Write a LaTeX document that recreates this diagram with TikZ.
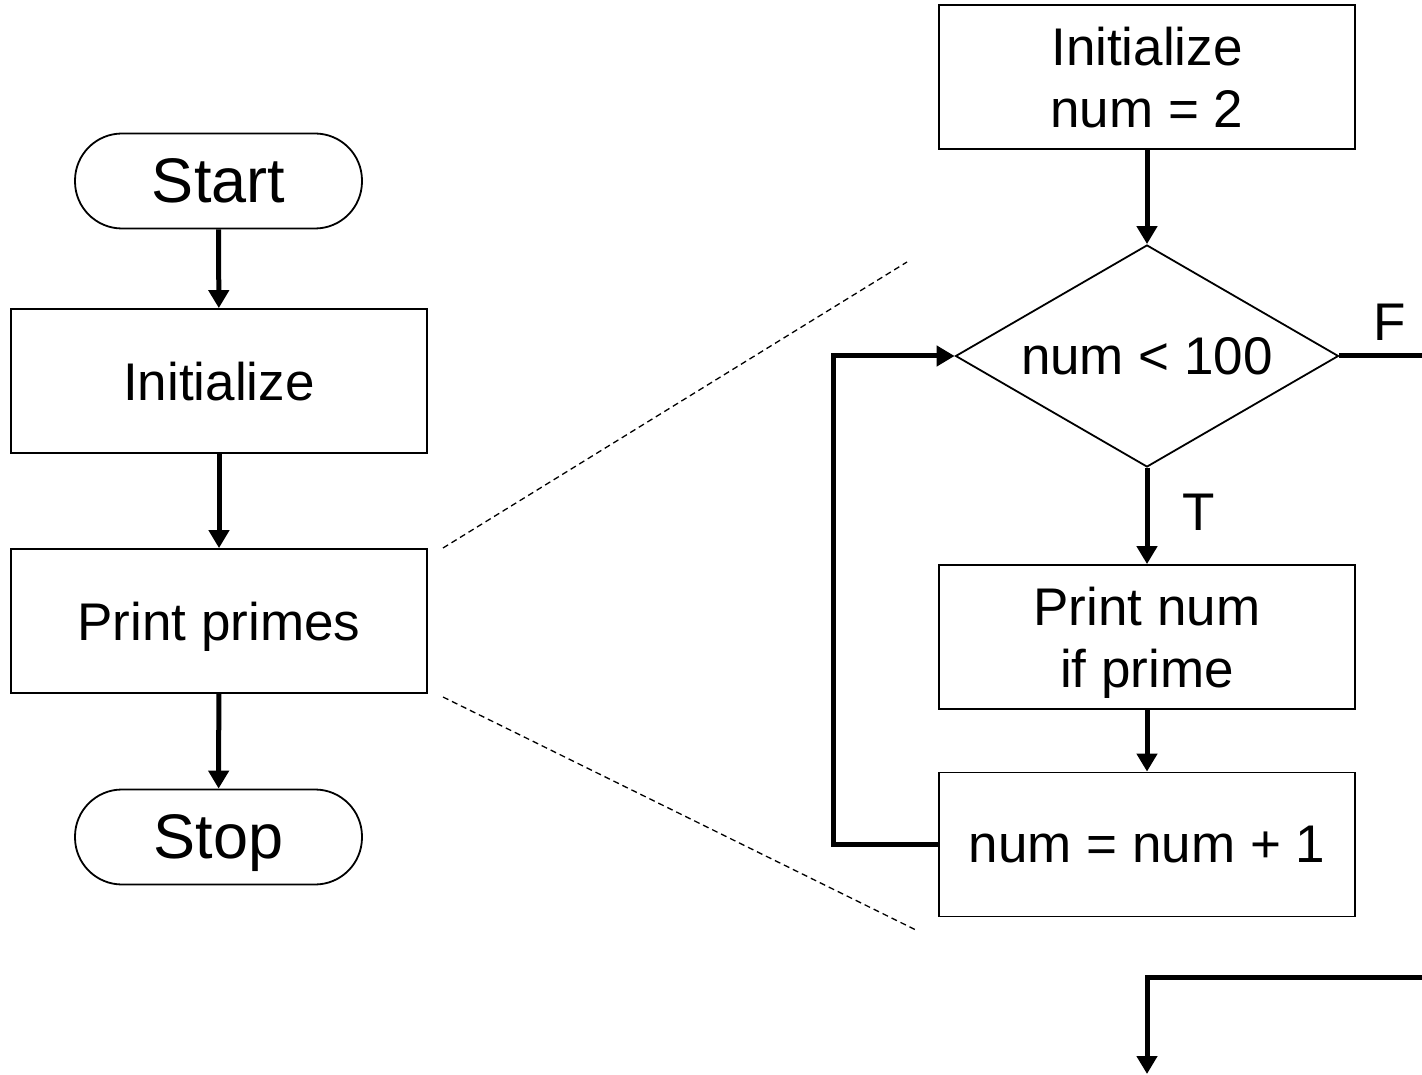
\documentclass[tikz,border=0pt]{standalone}
\usepackage{fontspec}
\setmainfont{Liberation Sans}
\usetikzlibrary{arrows.meta,shapes.geometric}
\begin{document}
\begin{tikzpicture}[x=1pt,y=-1pt,
  box/.style={draw,line width=1.8pt,rectangle,inner sep=0pt,minimum width=416pt,minimum height=144pt,
    align=center,text depth=0pt,font=\fontsize{53}{62}\selectfont},
  term/.style={draw,line width=1.8pt,rectangle,rounded corners=47pt,inner sep=0pt,minimum width=287pt,minimum height=95pt,
    text depth=0pt,font=\fontsize{63}{72}\selectfont},
  decision/.style={draw,line width=1.8pt,diamond,aspect=1.725,inner sep=0pt,minimum width=383pt,minimum height=222pt,
    text depth=0pt,font=\fontsize{53}{62}\selectfont},
  flow/.style={line width=5pt,-{Triangle[width=20pt,length=18pt]}},
  flowline/.style={line width=5pt},
  zoomline/.style={line width=1.3pt,dash pattern=on 6pt off 4pt},
  lbl/.style={font=\fontsize{53}{62}\selectfont,inner sep=0pt}]
\useasboundingbox (0,0) rectangle (1422,1075);

% top-level program
\node[term] (start) at (218.5,181) {Start};
\node[box] (init) at (219,381) {Initialize};
\node[box] (print) at (219,621) {Print primes};
\node[term] (stop) at (218.5,837) {Stop};

\draw[flow] (start) -- (init);
\draw[flow] (init) -- (print);
\draw[flow] (print) -- (stop);

% expansion guides
\coordinate (g1a) at (443,548);
\coordinate (g1b) at (907,262);
\coordinate (g2a) at (443,697);
\coordinate (g2b) at (918,931);
\draw[zoomline] (g1a) -- (g1b);
\draw[zoomline] (g2a) -- (g2b);

% refined loop
\node[box] (init2) at (1147,77) {Initialize\\num = 2};
\node[decision] (test) at (1147,356) {num < 100};
\node[box] (body) at (1147,637) {Print num\\if prime};
\node[box] (inc) at (1147,844.5) {num = num + 1};

\draw[flow] (init2) -- (test);
\draw[flow] (test.south) -- (body.north);
\draw[flow] (body) -- (inc);
\draw[flow] (inc.west) -- ++(-105,0) |- (test.west);

\coordinate (fout) at (1422,356);
\draw[flowline] (test.east) -- (fout);
\node[lbl] (flbl) at (1390,322) {F};
\node[lbl] (tlbl) at (1199,512) {T};

\coordinate (jin) at (1422,977);
\coordinate (jout) at (1147,1074);
\draw[flow] (jin) -| (jout);
\end{tikzpicture}
\end{document}
